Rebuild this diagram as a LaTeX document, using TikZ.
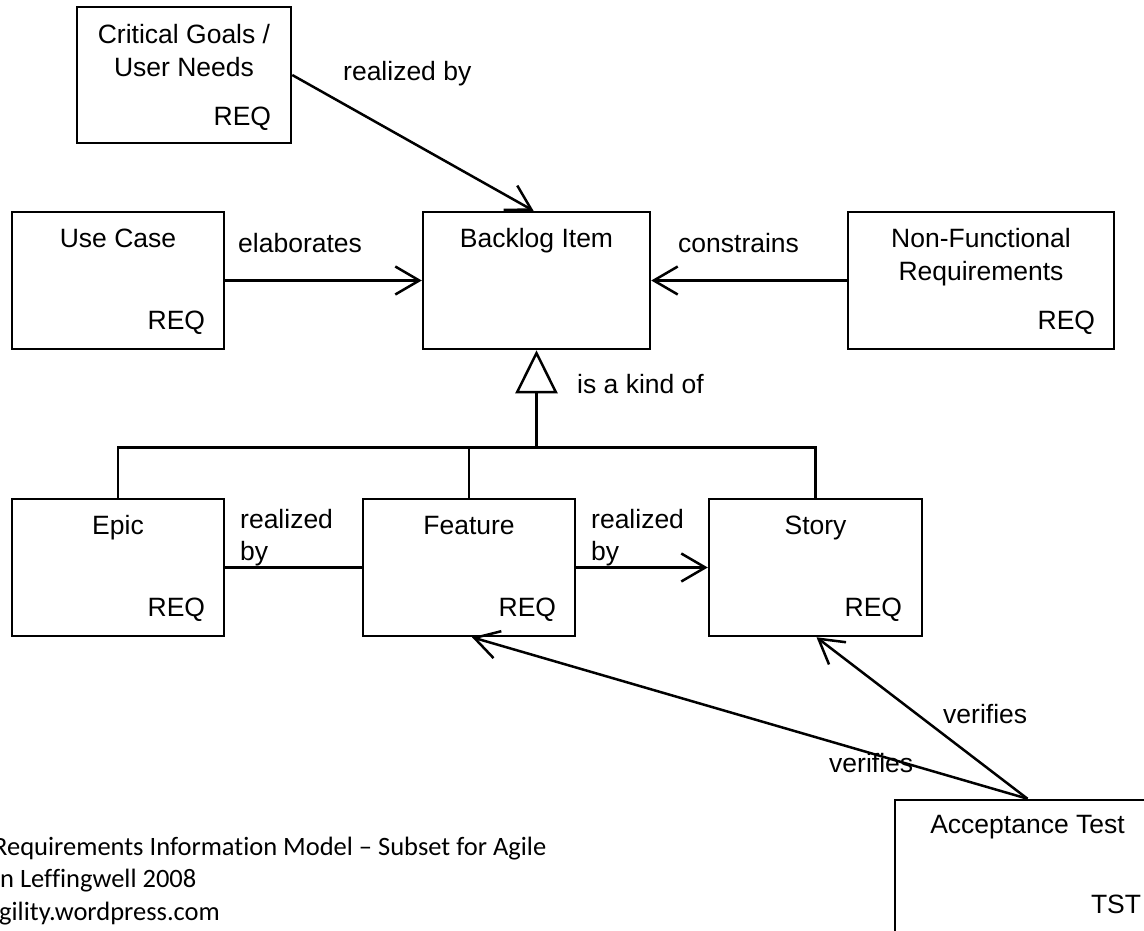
\documentclass[tikz,border=0pt]{standalone}
\usepackage{fontspec}
\setmainfont{Liberation Sans}
\newfontfamily\footfont[Ligatures=NoCommon]{Carlito}
\usetikzlibrary{arrows.meta,calc}
\begin{document}
\begin{tikzpicture}[x=1pt,y=-1pt,
  box/.style={draw, line width=2.5pt, inner sep=0pt},
  txt/.style={inner sep=0pt, font=\fontsize{26.5}{33}\selectfont},
  lbl/.style={inner sep=0pt, font=\fontsize{26.5}{32}\selectfont, align=left},
  foot/.style={inner sep=0pt, font=\footfont\fontsize{26.5}{32}\selectfont},
  conn/.style={line width=2.5pt},
  arr/.style={line width=2.5pt, -{Straight Barb[length=24pt,width=28pt]}},
  gen/.style={line width=2.5pt, -{Triangle[open,length=43pt,width=42pt]}}]
\path[use as bounding box, fill=white] (0,0) rectangle (1144,931);
\clip (0,0) rectangle (1144,931);

% boxes
\node[box, minimum width=214pt, minimum height=136pt] (cg) at (184,75) {};
\node[box, minimum width=212pt, minimum height=137pt] (uc) at (118,280.5) {};
\node[box, minimum width=227pt, minimum height=137pt] (bi) at (536.5,280.5) {};
\node[box, minimum width=266pt, minimum height=137pt] (nfr) at (981,280.5) {};
\node[box, minimum width=212pt, minimum height=137pt] (epic) at (118,567.5) {};
\node[box, minimum width=212pt, minimum height=137pt] (feat) at (469,567.5) {};
\node[box, minimum width=213pt, minimum height=137pt] (story) at (815.5,567.5) {};
\node[box, minimum width=265pt, minimum height=145pt] (at) at (1027.5,872.5) {};

% box texts
\node[txt, anchor=north, align=center] (cgt) at ($(cg.north)+(0,18)$) {Critical Goals /\\User Needs};
\node[txt, anchor=base east] (cgr) at ($(cg.south east)+(-21,-19)$) {REQ};
\node[txt, anchor=base] (uct) at ($(uc.north)+(0,37)$) {Use Case};
\node[txt, anchor=base east] (ucr) at ($(uc.south east)+(-20,-21)$) {REQ};
\node[txt, anchor=base] (bit) at ($(bi.north)+(0,37)$) {Backlog Item};
\node[txt, anchor=north, align=center] (nfrt) at ($(nfr.north)+(0,17)$) {Non-Functional\\Requirements};
\node[txt, anchor=base east] (nfrr) at ($(nfr.south east)+(-20,-21)$) {REQ};
\node[txt, anchor=base] (epict) at ($(epic.north)+(0,37)$) {Epic};
\node[txt, anchor=base east] (epicr) at ($(epic.south east)+(-20,-21)$) {REQ};
\node[txt, anchor=base] (featt) at ($(feat.north)+(0,37)$) {Feature};
\node[txt, anchor=base east] (featr) at ($(feat.south east)+(-20,-21)$) {REQ};
\node[txt, anchor=base] (storyt) at ($(story.north)+(0,37)$) {Story};
\node[txt, anchor=base east] (storyr) at ($(story.south east)+(-21,-21)$) {REQ};
\node[txt, anchor=base] (att) at ($(at.north)+(0,35)$) {Acceptance Test};
\node[txt, anchor=base east] (atr) at ($(at.south east)+(-20,-33)$) {TST};

% connectors
\draw[arr] (cg.east) -- ($(bi.north)+(-3,0)$);
\draw[arr] (uc.east) -- (bi.west);
\draw[arr] (nfr.west) -- (bi.east);
\coordinate (jn) at ($(bi.south)+(0,97)$);
\draw[gen] (jn) -- (bi.south);
\draw[conn] (epic.north) |- (jn);
\draw[conn] (story.north) |- (jn);
\draw[conn] (feat.north) -- (feat.north |- jn);
\draw[conn] (epic.east) -- (feat.west);
\draw[arr] (feat.east) -- (story.west);
\draw[arr] (at.north) -- ($(feat.south)+(3,0)$);
\draw[arr] (at.north) -- ($(story.south)+(1,0)$);

% connector labels
\node[lbl, anchor=base west] (l1) at (343,81) {realized by};
\node[lbl, anchor=base west] (l2) at (238,252) {elaborates};
\node[lbl, anchor=base west] (l3) at (678,252) {constrains};
\node[lbl, anchor=base west] (l4) at (577,393) {is a kind of};
\node[lbl, anchor=north west] (l5) at (240,509) {realized\\by};
\node[lbl, anchor=north west] (l6) at (591,509) {realized\\by};
\node[lbl, anchor=base west] (l7) at (943,723) {verifies};
\node[lbl, anchor=base west] (l8) at (829,772) {verifies};

% footer
\node[foot, anchor=base west] (f1) at (-7,855) {Requirements Information Model – Subset for Agile};
\node[foot, anchor=base west] (f2) at (0,887) {n Leffingwell 2008};
\node[foot, anchor=base west] (f3) at (-1,920) {gility.wordpress.com};
\end{tikzpicture}
\end{document}
